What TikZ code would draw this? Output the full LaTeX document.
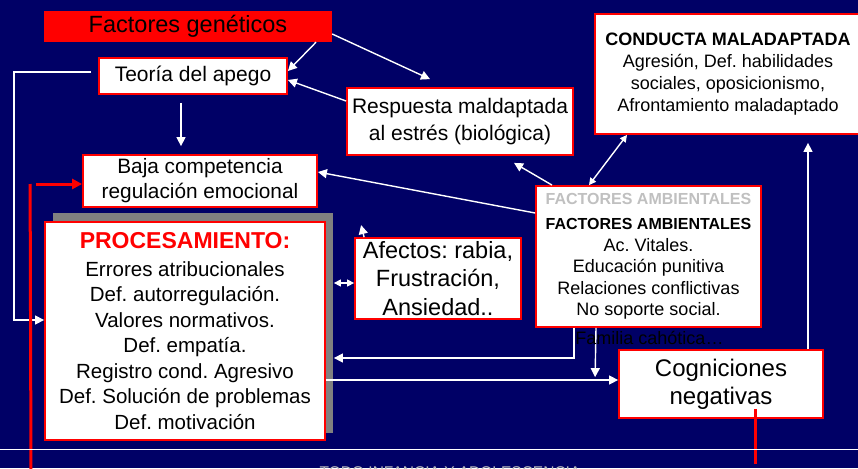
\documentclass[tikz,border=0pt]{standalone}
\usepackage{fontspec}
\setmainfont{Liberation Sans}
\usetikzlibrary{calc,arrows.meta}
\definecolor{fondo}{RGB}{0,0,102}
\definecolor{rojo}{RGB}{255,0,0}
\definecolor{sombra}{RGB}{128,128,128}
\definecolor{grisclaro}{RGB}{192,192,192}
\frenchspacing
\begin{document}
\begin{tikzpicture}[x=1pt,y=-1pt,
  caja/.style={draw=rojo,line width=1.8pt,fill=white,inner sep=0pt,align=center},
  flecha/.style={white,line width=1.4pt,-{Triangle[length=9pt,width=9pt]}},
  flechados/.style={white,line width=1.4pt,{Triangle[length=7pt,width=7pt]}-{Triangle[length=7pt,width=7pt]}},
  linearoja/.style={rojo,line width=3pt}]
\useasboundingbox (0,0) rectangle (858,468);
\fill[fondo] (0,0) rectangle (858,468);
\clip (0,0) rectangle (858,468);
\fill[sombra] (53,213) rectangle (333,433);
\node[fill=rojo,minimum width=288pt,minimum height=31pt,inner sep=0pt,font=\fontsize{23.5}{28}\selectfont] (gen) at (188,26.5) {Factores genéticos};
\node[caja,minimum width=188pt,minimum height=36pt,font=\fontsize{21}{25}\selectfont] (apego) at (193,76) {Teoría del apego};
\node[caja,minimum width=226pt,minimum height=67pt,font=\fontsize{21}{27}\selectfont] (resp) at (460,121.5) {Respuesta maldaptada\\al estrés (biológica)};
\node[caja,minimum width=266pt,minimum height=120pt,font=\fontsize{18}{22}\selectfont] (cond) at (728,74) {\textbf{CONDUCTA MALADAPTADA}\\Agresión, Def. habilidades\\sociales, oposicionismo,\\Afrontamiento maladaptado};
\node[caja,minimum width=234pt,minimum height=52pt,font=\fontsize{20.8}{25}\selectfont] (baja) at (200,181) {Baja competencia\\regulación emocional};
\node[caja,minimum width=280pt,minimum height=218pt,font=\fontsize{20.5}{25.5}\selectfont] (proc) at (185,331) {{\color{rojo}\bfseries\fontsize{23}{25.5}\selectfont PROCESAMIENTO:}\\[2pt]Errores atribucionales\\Def. autorregulación.\\Valores normativos.\\Def. empatía.\\Registro cond. Agresivo\\Def. Solución de problemas\\Def. motivación};
\node[caja,minimum width=166pt,minimum height=81pt,font=\fontsize{23.5}{28.5}\selectfont] (afec) at (438,278.5) {Afectos: rabia,\\Frustración,\\Ansiedad..};
\node[caja,minimum width=225pt,minimum height=141pt,font=\fontsize{18}{21.5}\selectfont] (amb) at (648.5,256.5) {{\color{grisclaro}\bfseries\fontsize{16}{21.5}\selectfont FACTORES AMBIENTALES}\\[4pt]{\bfseries\fontsize{16}{21.5}\selectfont FACTORES AMBIENTALES}\\Ac. Vitales.\\Educación punitiva\\Relaciones conflictivas\\No soporte social.};
\node[caja,minimum width=204pt,minimum height=68pt,font=\fontsize{24}{28}\selectfont] (cog) at (721,384) {Cogniciones\\negativas};
\draw[flecha] ($(gen.south)+(128,0)$) -- ($(apego.east)+(0,-5)$);
\draw[flecha] ($(gen.east)+(0,7.5)$) -- ($(resp.north)+(-30,-8)$);
\draw[flecha] ($(resp.west)+(0,-20.5)$) -- ($(apego.east)+(0,4)$);
\draw[flecha] ($(apego.south)+(-12,8)$) -- ($(baja.north)+(-19,-8)$);
\draw[flecha] ($(apego.west)+(-7,-4)$) -| ($(proc.west)+(-30,-11)$) -- ($(proc.west)+(0,-11)$);
\draw[flecha] ($(amb.west)+(0,-43.5)$) -- ($(baja.east)+(0,-9)$);
\draw[flecha] ($(amb.north)+(-96.5,0)$) -- ($(resp.south)+(54,7)$);
\draw[flechados] ($(amb.north)+(-59.5,0)$) -- ($(cond.south)+(-101,0)$);
\draw[flecha] ($(cog.north)+(87,0)$) -- ($(cond.south)+(80,8)$);
\draw[flecha] ($(amb.south)+(-74.5,0)$) |- ($(proc.east)+(8,27)$);
\draw[flecha] ($(amb.south)+(-52.5,0)$) -- ($(cog.north west)+(-23,28)$);
\draw[flecha] ($(proc.east)+(0,49)$) -- ($(cog.west)+(0,-4)$);
\draw[flechados] ($(proc.east)+(8,-48)$) -- ($(afec.west)+(0,4.5)$);
\draw[flecha] ($(afec.north west)+(10,0)$) -- ($(afec.north west)+(7,-12)$);
\node[font=\fontsize{18}{21.5}\selectfont,anchor=base] (familia) at (649.5,344) {Familia cahótica…};
\coordinate (rojoabajo) at (31,470);
\draw[linearoja] (rojoabajo) -- ($(baja.west)+(-52,3)$);
\draw[linearoja,-{Triangle[length=10pt,width=10pt]}] ($(baja.west)+(-46,3)$) -- ($(baja.west)+(0,3)$);
\draw[linearoja] ($(cog.south)+(34,-10)$) -- ++(0,55);
\draw[white,line width=1pt] (0,449) -- (858,449);
\node[text=grisclaro,font=\fontsize{15.5}{18}\selectfont,anchor=base] (pie) at (450,477) {TODO INFANCIA Y ADOLESCENCIA};
\end{tikzpicture}
\end{document}
